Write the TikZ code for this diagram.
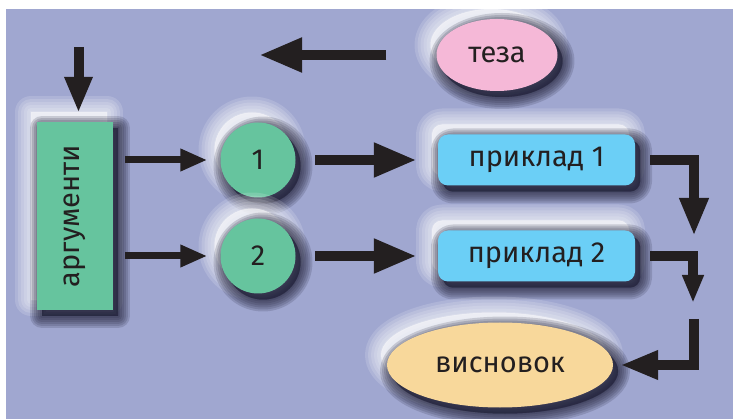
\documentclass[tikz,border=0pt]{standalone}
\usepackage{fontspec}
\usepackage{graphicx}
\setmainfont{Fira Sans}
\usetikzlibrary{arrows.meta,shapes.geometric}
\definecolor{bgc}{HTML}{A0A7D0}
\definecolor{greenc}{HTML}{66C49E}
\definecolor{pinkc}{HTML}{F5B8D7}
\definecolor{bluec}{HTML}{6BCFF6}
\definecolor{yellowc}{HTML}{F8D89B}
\definecolor{darkc}{HTML}{231F20}
\definecolor{shc}{HTML}{22223A}
\tikzset{
  gl/.style={preaction={fill=white, draw=white, line join=round, opacity=0.15, line width=#1, transform canvas={shift={(-6pt,10pt)}}}},
  ds/.style={preaction={fill=shc, draw=shc, line join=round, opacity=0.17, line width=#1, transform canvas={shift={(5pt,-6pt)}}}},
  glow/.style={gl=32pt, gl=26pt, gl=20pt, gl=14pt, gl=8pt, gl=2pt},
  dsh/.style={ds=24pt, ds=20pt, ds=16pt, ds=12pt, ds=8pt, ds=4pt, ds=1pt},
  shape3d/.style={glow, dsh, inner sep=0pt, text=darkc, font=\fontsize{29}{33}\selectfont},
  ovalbox/.style={shape3d, ellipse},
  roundbox/.style={shape3d, rectangle, rounded corners=10pt, fill=bluec, minimum width=197pt, minimum height=51pt},
  numcircle/.style={shape3d, circle, fill=greenc, minimum size=75pt},
  argbox/.style={shape3d, rectangle, fill=greenc, minimum width=76pt, minimum height=188pt},
  arrbase/.style={draw=darkc, line join=miter, line cap=butt},
  arrthin/.style={arrbase, line width=7pt, -{Triangle[length=27pt,width=21pt]}},
  arrdown/.style={arrbase, line width=10pt, -{Triangle[length=36pt,width=26pt]}},
  arrbig/.style={arrbase, line width=10.5pt, -{Triangle[length=43pt,width=32pt]}},
  arrbend/.style={arrbase, line width=10pt, -{Triangle[length=38pt,width=27pt]}},
  arrbendsm/.style={arrbase, line width=10pt, -{Triangle[length=28pt,width=20pt]}},
}
\begin{document}
\begin{tikzpicture}[x=1pt,y=-1pt]
\useasboundingbox (0,0) rectangle (733,419);
\fill[white] (0,0) rectangle (733,419);
\fill[bgc] (6,9) rectangle (733,419);

\node[ovalbox, fill=pinkc, minimum width=121pt, minimum height=72pt] (teza) at (497,55) {теза};
\node[argbox] (arg) at (75,216) {\rotatebox{90}{аргументи}};
\node[numcircle] (c1) at (258,160) {1};
\node[numcircle] (c2) at (258,256) {2};
\node[roundbox] (p1) at (536.5,160) {приклад 1};
\node[roundbox] (p2) at (536.5,256) {приклад 2};
\node[ovalbox, fill=yellowc, minimum width=226pt, minimum height=85pt] (vis) at (500,365) {висновок};

% connectors
\coordinate (dtop) at (78.5,47);
\draw[arrdown, shorten >=9pt] (dtop) -- (dtop |- arg.north);
\coordinate (tl) at (259,55);
\draw[arrbig, shorten <=50pt] (teza.west) -- (tl);

\draw[arrthin, shorten <=12pt, shorten >=13pt] (arg.east |- c1) -- (c1);
\draw[arrthin, shorten <=12pt, shorten >=13pt] (arg.east |- c2) -- (c2);

\draw[arrbig, shorten <=19.5pt, shorten >=21pt] (c1) -- (p1);
\draw[arrbig, shorten <=19.5pt, shorten >=21pt] (c2) -- (p2);

\coordinate (r1) at (694,160);
\coordinate (r1e) at (694,236);
\draw[arrbend, shorten <=15pt] (p1.east) -- (r1) -- (r1e);
\coordinate (r2) at (693,256);
\coordinate (r2e) at (693,303);
\draw[arrbendsm, shorten <=15pt] (p2.east) -- (r2) -- (r2e);
\coordinate (r3s) at (694,319);
\coordinate (r3) at (694,365);
\draw[arrbend, shorten >=7pt] (r3s) -- (r3) -- (vis.east);
\end{tikzpicture}
\end{document}
